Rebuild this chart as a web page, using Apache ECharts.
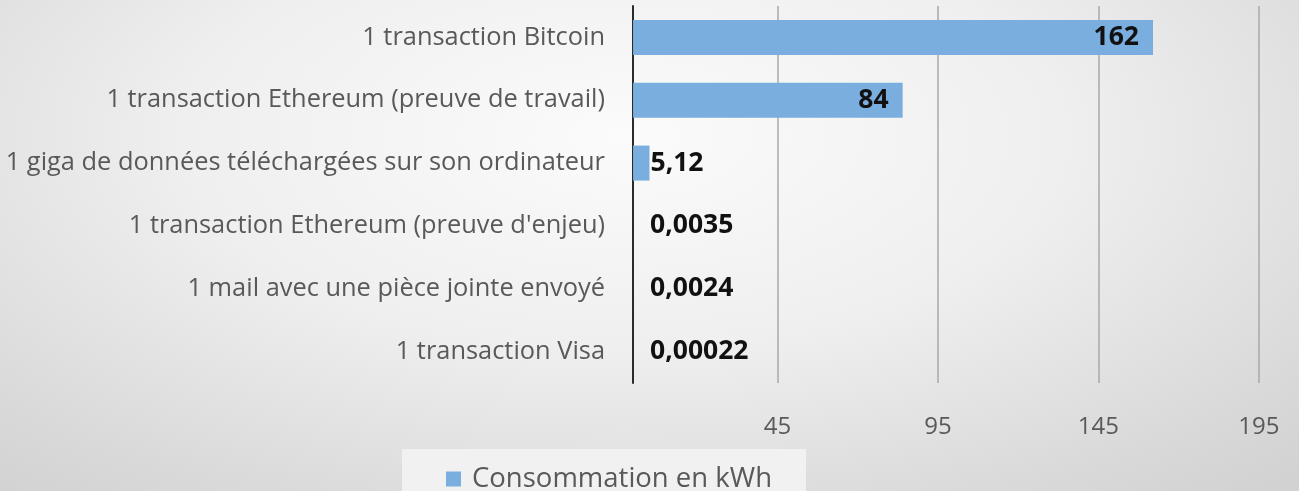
<!DOCTYPE html>
<html>
<head>
<meta charset="utf-8">
<script src="https://cdn.jsdelivr.net/npm/echarts@6/dist/echarts.min.js"></script>
<style>
  html, body { margin: 0; padding: 0; }
  body {
    width: 1299px; height: 491px; overflow: hidden;
    background: radial-gradient(ellipse 75% 95% at 48% 28%, #fbfbfb 0%, #efefef 45%, #d9d9d9 85%, #d2d2d2 100%);
  }
  #chart { width: 1299px; height: 491px; }
</style>
</head>
<body>
<div id="chart"></div>
<script>
const categories = [
  '1 transaction Bitcoin',
  '1 transaction Ethereum (preuve de travail)',
  '1 giga de données téléchargées sur son ordinateur',
  "1 transaction Ethereum (preuve d'enjeu)",
  '1 mail avec une pièce jointe envoyé',
  '1 transaction Visa',
]
const consumption = [162, 84, 5.12, 0.0035, 0.0024, 0.00022]
const tickLabels = [45, 95, 145, 195]

const fontFamily = '"Open Sans", "Noto Sans", sans-serif'
const chart = echarts.init(document.getElementById('chart'))

// big bars get the value inside, small ones just past the axis
function labelFor(v) {
  if (v > 50)
    return { position: 'insideRight', distance: 14 }
  if (v > 1)
    return { position: 'right', distance: 1 }
  return { position: 'right', distance: 17 }
}

chart.setOption({
  animation: false,
  grid: { left: 617, right: 8, top: 6, bottom: 108, containLabel: false },
  legend: {
    data: ['Consommation en kWh'],
    left: 402,
    top: 449,
    backgroundColor: '#f1f1f1',
    padding: [16, 34, 30, 44],
    itemWidth: 15,
    itemHeight: 15,
    icon: 'rect',
    textStyle: { color: '#595959', fontSize: 27.5, fontFamily, padding: [0, 0, 0, 6] },
  },
  xAxis: {
    type: 'value',
    min: -5,
    max: 205,
    interval: 50,
    axisLine: { show: false },
    axisTick: { show: false },
    splitLine: { showMinLine: false, showMaxLine: false, lineStyle: { color: '#a8a8a8', width: 1.5 } },
    axisLabel: {
      margin: 32,
      color: '#595959',
      fontSize: 24,
      fontFamily,
      formatter: v => (tickLabels.includes(v) ? String(v) : ''),
    },
  },
  yAxis: {
    type: 'category',
    inverse: true,
    data: categories,
    axisTick: { show: false },
    axisLine: { onZero: true, lineStyle: { color: '#2b2b2b', width: 2 } },
    axisLabel: { margin: 12, color: '#595959', fontSize: 25.4, fontFamily, padding: [4, 0, 0, 0] },
  },
  series: [
    {
      name: 'Consommation en kWh',
      type: 'bar',
      barWidth: 35,
      itemStyle: { color: '#79aedf' },
      data: consumption.map(v => ({ value: v, label: labelFor(v) })),
      label: {
        show: true,
        color: '#111',
        fontWeight: 'bold',
        fontSize: 26.5,
        fontFamily,
        formatter: p => String(p.value).replace('.', ','),
      },
    },
  ],
})
</script>
</body>
</html>
